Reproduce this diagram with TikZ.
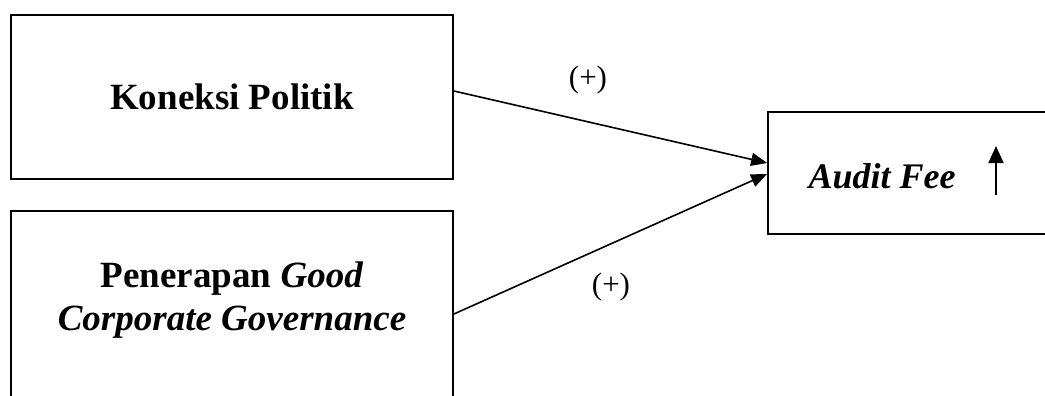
\documentclass[tikz,border=0pt]{standalone}
\usepackage{fontspec}
\setmainfont{Liberation Serif}
\usetikzlibrary{arrows.meta}
\tikzset{
  boxstyle/.style={draw, line width=1.8pt, rectangle, inner sep=0pt, align=center,
    font=\fontsize{37}{43}\selectfont\bfseries},
  linkstyle/.style={line width=1.6pt, -{Triangle[length=16pt,width=13pt]}},
  signstyle/.style={inner sep=0pt, font=\fontsize{31}{36}\selectfont}
}
\begin{document}
\begin{tikzpicture}[x=1pt,y=-1pt]
\useasboundingbox (0,0) rectangle (1045,396);
\clip (0,0) rectangle (1045,396);
\node[boxstyle, minimum width=442pt, minimum height=164pt] (kp) at (232,97) {Koneksi Politik};
\node[boxstyle, minimum width=442pt, minimum height=190pt] (gcg) at (232,306) {};
\node[inner sep=0pt, align=center, font=\fontsize{37}{43}\selectfont\bfseries] (gcgt) at (232,300) {Penerapan \textit{Good}\\\textit{Corporate Governance}};
\node[boxstyle, minimum width=300pt, minimum height=122pt] (af) at (918,173) {};
\node[inner sep=0pt, font=\fontsize{36}{43}\selectfont\bfseries\itshape] (aft) at (882,176) {Audit Fee};
\coordinate (upb) at (996,195);
\coordinate (upt) at (996,146);
\draw[line width=1.7pt, -{Triangle[length=17pt,width=15pt]}] (upb) -- (upt);
\draw[linkstyle] ([yshift=6pt]kp.east) -- ([yshift=10pt]af.west);
\draw[linkstyle] ([yshift=-8pt]gcg.east) -- ([yshift=-1pt]af.west);
\node[signstyle] (s1) at (588,80) {(+)};
\node[signstyle] (s2) at (611,287) {(+)};
\end{tikzpicture}
\end{document}
